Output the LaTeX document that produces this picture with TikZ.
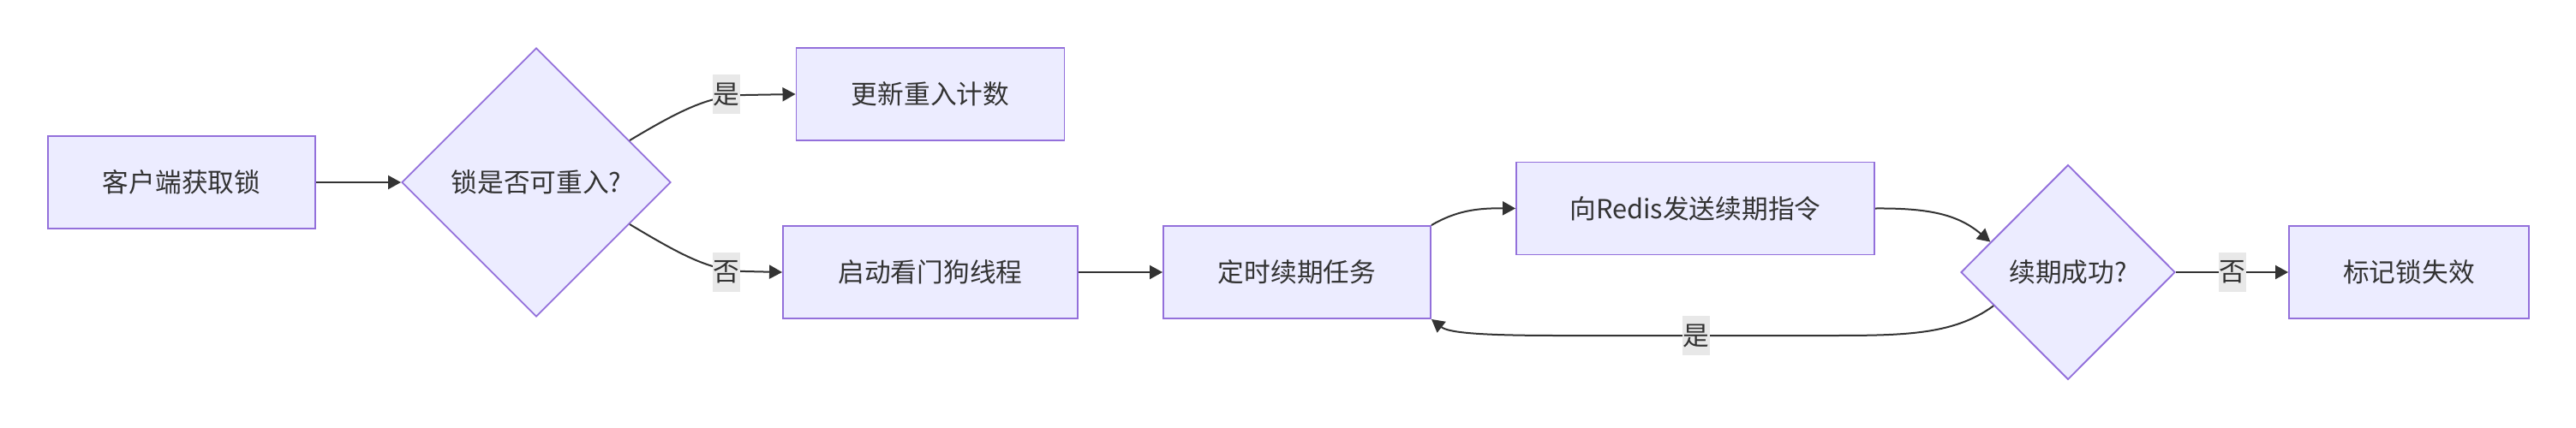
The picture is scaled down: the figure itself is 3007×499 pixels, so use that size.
\documentclass[tikz,border=0pt]{standalone}
\usepackage{fontspec}
\setmainfont{Noto Sans CJK SC}
\usetikzlibrary{shapes.geometric,arrows.meta,calc}
\definecolor{nodefill}{HTML}{ECECFF}
\definecolor{nodeline}{HTML}{9370DB}
\definecolor{edgecol}{HTML}{333333}
\definecolor{lblbg}{HTML}{E8E8E8}
\begin{document}
\begin{tikzpicture}[x=1pt,y=-1pt,
 every node/.style={text=edgecol, font=\fontsize{30.7}{36}\selectfont},
 box/.style={draw=nodeline, fill=nodefill, line width=1.9pt, inner sep=0pt, minimum height=108pt},
 dia/.style={diamond, draw=nodeline, fill=nodefill, line width=1.9pt, inner sep=0pt},
 arr/.style={draw=edgecol, line width=2pt, -{Triangle[length=15pt,width=16pt]}},
 lbl/.style={fill=lblbg, inner xsep=1pt, inner ysep=0pt, minimum height=46pt}]
\useasboundingbox (0,0) rectangle (3007,499);
\node[box, minimum width=312pt] (A) at (212,213) {客户端获取锁};
\node[dia, minimum width=314pt, minimum height=314pt] (B) at (626,213) {锁是否可重入?};
\node[box, minimum width=313pt] (C) at (1086,110) {更新重入计数};
\node[box, minimum width=344pt] (D) at (1086,318) {启动看门狗线程};
\node[box, minimum width=312pt] (E) at (1514,318) {定时续期任务};
\node[box, minimum width=418pt] (F) at (1979,243.5) {向Redis发送续期指令};
\node[dia, minimum width=250pt, minimum height=251pt] (G) at (2414,318) {续期成功?};
\node[box, minimum width=280pt] (H) at (2812,318) {标记锁失效};

\draw[arr] (A.east) -- (B.west);
\draw[arr] ($(B.east)!0.31!(B.north)$) .. controls (800,125) and (830,112) .. (870,111) -- (C.west);
\draw[arr] ($(B.east)!0.31!(B.south)$) .. controls (800,301) and (830,316) .. (870,317) -- (D.west);
\draw[arr] (D.east) -- (E.west);
\draw[arr] (E.north east) .. controls (1700,246) and (1725,243) .. (F.west);
\draw[arr] (F.east) .. controls (2250,243) and (2285,250) .. ($(G.west)!0.28!(G.north)$);
\draw[arr] ($(G.west)!0.31!(G.south)$) .. controls (2280,392) and (2220,392) .. (2130,392) -- (1820,392) .. controls (1720,392) and (1690,388) .. (E.south east);
\draw[arr] (G.east) -- (H.west);

\node[lbl] (l1) at (848,110) {是};
\node[lbl] (l2) at (848,318) {否};
\node[lbl] (l3) at (1980,392) {是};
\node[lbl] (l4) at (2606,318) {否};
\end{tikzpicture}
\end{document}
